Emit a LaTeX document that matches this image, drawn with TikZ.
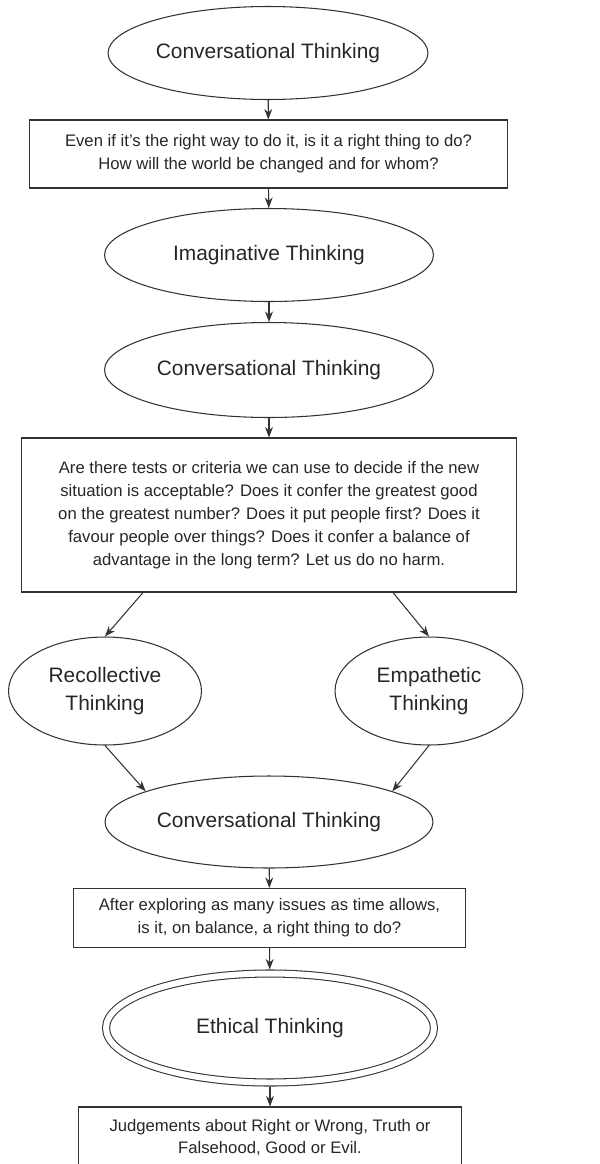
\documentclass[tikz,border=0pt]{standalone}
\usepackage{fontspec}
\setmainfont{Liberation Sans}
\usepackage{xcolor}
\usepackage{tikz}
\usetikzlibrary{shapes.geometric,arrows.meta}

\begin{document}
\begin{tikzpicture}[x=0.02cm, y=-0.02cm,
        think/.style={draw=black!80, line width=0.6pt, ellipse, inner sep=0pt, text=black!85, align=center, font=\fontsize{11.9}{16.4}\selectfont},
        quest/.style={draw=black!80, line width=0.6pt, rectangle, inner sep=0pt, text=black!85, align=center, font=\fontsize{9.5}{13}\selectfont},
        arr/.style={-{Stealth[length=6pt, width=4.5pt]}, draw=black!80, line width=0.6pt}]
        \useasboundingbox (0,0) rectangle (599,1164);

        \node[think, minimum width=6.4cm, minimum height=1.86cm] (conv1) at (268,53) {Conversational Thinking};
        \node[quest, minimum width=9.58cm, minimum height=1.36cm] (right) at (268.5,154) {Even if it's the right way to do it, is it a right thing to do?\\How will the world be changed and for whom?};

        \node[think, minimum width=6.58cm, minimum height=1.86cm] (imag) at (269,255) {Imaginative Thinking};
        \node[think, minimum width=6.58cm, minimum height=1.9cm] (conv2) at (269,370) {Conversational Thinking};

        \node[quest, minimum width=9.92cm, minimum height=3.08cm] (tests) at (269,515) {Are there tests or criteria we can use to decide if the new\\situation is acceptable? Does it confer the greatest good\\on the greatest number? Does it put people first? Does it\\favour people over things? Does it confer a balance of\\advantage in the long term? Let us do no harm.};

        \node[think, minimum width=3.86cm, minimum height=2.16cm] (recol) at (105,691) {Recollective\\Thinking};
        \node[think, minimum width=3.76cm, minimum height=2.16cm] (empat) at (429,691) {Empathetic\\Thinking};

        \node[think, minimum width=6.56cm, minimum height=1.84cm] (conv3) at (269,822) {Conversational Thinking};
        \node[quest, minimum width=7.86cm, minimum height=1.18cm] (balance) at (269.5,918) {After exploring as many issues as time allows,\\is it, on balance, a right thing to do?};

        \node[think, double, double distance=3.4pt, outer sep=2.3pt, minimum width=6.56cm, minimum height=2.18cm] (ethic) at (270,1028) {Ethical Thinking};
        \node[quest, minimum width=7.68cm, minimum height=1.22cm] (judge) at (270,1137.5) {Judgements about Right or Wrong, Truth or\\Falsehood, Good or Evil.};

        \draw[arr] (conv1) -- (right);
        \draw[arr] (right) -- (imag);
        \draw[arr] (imag) -- (conv2);
        \draw[arr] (conv2) -- (tests);
        \draw[arr] ([xshift=-2.52cm]tests.south) -- (recol.north);
        \draw[arr] ([xshift=2.48cm]tests.south) -- (empat.north);
        \draw[arr] (recol.south) -- (conv3.166);
        \draw[arr] (empat.south) -- (conv3.14);
        \draw[arr] (conv3) -- (balance);
        \draw[arr] (balance) -- (ethic);
        \draw[arr] (ethic) -- (judge);
    \end{tikzpicture}
\end{document}
